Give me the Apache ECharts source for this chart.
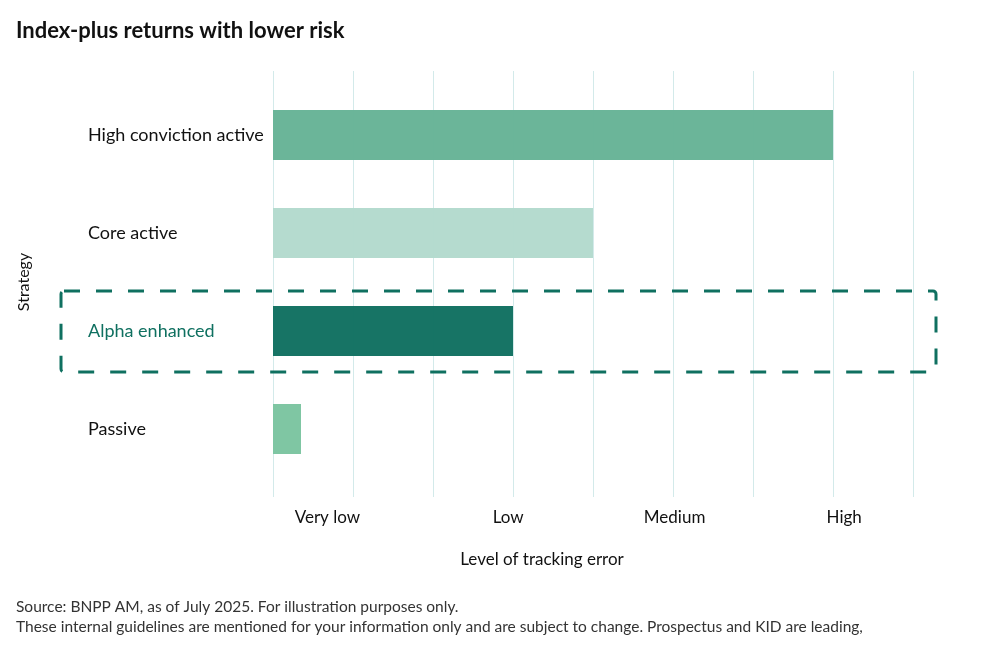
<!DOCTYPE html>
<html>
<head>
<meta charset="utf-8">
<script src="https://cdn.jsdelivr.net/npm/echarts@6/dist/echarts.min.js"></script>
<style>
  html, body { margin: 0; padding: 0; background: #fff; }
  #chart { width: 989px; height: 649px; }
</style>
</head>
<body>
<div id="chart"></div>
<script>
// Data
var strategies = ['High conviction active', 'Core active', 'Alpha enhanced', 'Passive'];
var trackingError = [7, 4, 3, 0.35];
var barColors = ['#66b396', '#b3dacd', '#0f7060', '#7bc4a0'];
var tickLabels = ['Very low', 'Low', 'Medium', 'High'];
var tickPositions = [0.68, 2.94, 5.02, 7.14];
var highlighted = 'Alpha enhanced';

var FONT = 'Lato';
var myChart = echarts.init(document.getElementById('chart'));

var option = {
  animation: false,
  textStyle: { fontFamily: FONT },
  title: {
    text: 'Index-plus returns with lower risk',
    left: 11,
    top: 15,
    textStyle: { fontFamily: FONT, fontSize: 22, fontWeight: 'bold', color: '#111' }
  },
  grid: [
    // background grid for vertical lines and level labels
    { left: 273, width: 640, top: 71, height: 426 },
    // bars
    { left: 273, width: 640, top: 86, height: 392 }
  ],
  xAxis: [
    {
      gridIndex: 0,
      type: 'value',
      min: 0,
      max: 8,
      interval: 1,
      axisLine: { show: false },
      axisTick: { show: false },
      splitLine: { show: true, lineStyle: { color: '#d3eaea', width: 1 } },
      axisLabel: {
        customValues: tickPositions,
        margin: 12,
        fontSize: 17,
        color: '#111',
        formatter: function (v) {
          var i = tickPositions.indexOf(v);
          return i >= 0 ? tickLabels[i] : '';
        }
      },
      name: 'Level of tracking error',
      nameLocation: 'middle',
      nameGap: 54,
      nameTextStyle: { fontSize: 17, color: '#111', padding: [0, 102, 0, 0] }
    },
    {
      gridIndex: 1,
      type: 'value',
      min: 0,
      max: 8,
      show: false
    }
  ],
  yAxis: [
    { gridIndex: 0, type: 'value', show: false, min: 0, max: 1 },
    {
      gridIndex: 1,
      type: 'category',
      inverse: true,
      data: strategies,
      axisLine: { show: false },
      axisTick: { show: false },
      axisLabel: {
        align: 'left',
        margin: 185,
        fontSize: 18,
        color: '#111',
        formatter: function (v) {
          return v === highlighted ? '{hl|' + v + '}' : v;
        },
        rich: {
          hl: { fontSize: 18, color: '#0f7060', fontFamily: FONT }
        }
      },
      name: 'Strategy',
      nameLocation: 'middle',
      nameGap: 241,
      nameRotate: 90,
      nameTextStyle: { fontSize: 16, color: '#111' }
    }
  ],
  series: [
    {
      type: 'bar',
      xAxisIndex: 1,
      yAxisIndex: 1,
      barWidth: 50,
      data: trackingError.map(function (v, i) {
        return { value: v, itemStyle: { color: barColors[i], opacity: 0.97 } };
      })
    }
  ],
  graphic: [
    {
      id: 'footer',
      type: 'text',
      left: 16,
      top: 597,
      style: {
        text: 'Source: BNPP AM, as of July 2025. For illustration purposes only.\nThese internal guidelines are mentioned for your information only and are subject to change. Prospectus and KID are leading,',
        font: '15.5px ' + FONT,
        fill: '#333',
        lineHeight: 20
      }
    }
  ]
};

myChart.setOption(option);

// dashed box around the highlighted strategy
var cy = myChart.convertToPixel({ yAxisIndex: 1 }, highlighted);
myChart.setOption({
  graphic: [
    {
      id: 'highlightBox',
      type: 'rect',
      shape: { x: 61, y: cy - 40, width: 875, height: 81, r: 3 },
      style: { fill: 'none', stroke: '#0f7060', lineWidth: 3, lineDash: [16, 16] },
      z: 10
    }
  ]
});
</script>
</body>
</html>
